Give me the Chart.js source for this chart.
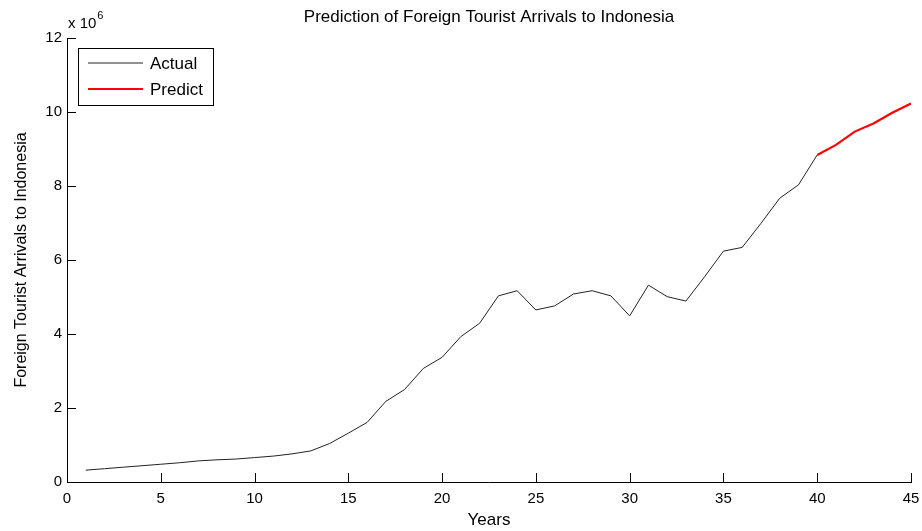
<!DOCTYPE html>
<html><head><meta charset="utf-8">
<script src="https://cdn.jsdelivr.net/npm/chart.js@4/dist/chart.umd.min.js"></script>
<style>html,body{margin:0;padding:0;background:#fff}#wrap{width:922px;height:531px}</style>
</head><body><div id="wrap"><canvas id="c" width="922" height="531"></canvas></div>
<script>
const chartTitle = 'Prediction of Foreign Tourist Arrivals to Indonesia';
const xTitle = 'Years';
const yTitle = 'Foreign Tourist Arrivals to Indonesia';
const seriesNames = ['Actual', 'Predict'];
const actualYears = [1,2,3,4,5,6,7,8,9,10,11,12,13,14,15,16,17,18,19,20,21,22,23,24,25,26,27,28,29,30,31,32,33,34,35,36,37,38,39,40];
const actualValues = [0.32,0.36,0.40,0.44,0.48,0.52,0.57,0.60,0.62,0.66,0.70,0.76,0.84,1.04,1.32,1.61,2.18,2.50,3.07,3.37,3.93,4.29,5.03,5.17,4.65,4.76,5.08,5.17,5.03,4.49,5.32,5.01,4.89,5.55,6.24,6.34,6.99,7.67,8.03,8.84];
const predictYears = [40,41,42,43,44,45];
const predictValues = [8.84,9.11,9.47,9.69,9.98,10.23];
const xTicks = [0,5,10,15,20,25,30,35,40,45];
const yTicks = [0,2,4,6,8,10,12];
const yMultiplierBase = 'x 10';
const yMultiplierExp = '6';

const FONT = "'Liberation Sans', Arial, sans-serif";

const toPoints = (xs, ys) => xs.map((x, i) => ({x: x, y: ys[i]}));

const decorPlugin = {
  id: 'decor',
  afterDraw(chart) {
    const ctx = chart.ctx;
    const xs = chart.scales.x, ys = chart.scales.y;
    const area = chart.chartArea;
    ctx.save();
    ctx.strokeStyle = '#000';
    ctx.lineWidth = 1;
    // inward tick marks
    xTicks.forEach(v => {
      const px = Math.round(xs.getPixelForValue(v)) + 0.5;
      ctx.beginPath(); ctx.moveTo(px, area.bottom); ctx.lineTo(px, area.bottom - 9); ctx.stroke();
    });
    yTicks.forEach(v => {
      const py = Math.round(ys.getPixelForValue(v)) + 0.5;
      ctx.beginPath(); ctx.moveTo(area.left, py); ctx.lineTo(area.left + 9, py); ctx.stroke();
    });
    // exponent label
    ctx.fillStyle = '#000';
    ctx.textBaseline = 'middle';
    ctx.textAlign = 'left';
    ctx.font = '15px ' + FONT;
    ctx.fillText(yMultiplierBase, area.left + 1, area.top - 14);
    const w = ctx.measureText(yMultiplierBase).width;
    ctx.font = '11px ' + FONT;
    ctx.fillText(yMultiplierExp, area.left + 2 + w, area.top - 22);
    // legend box
    const bx = area.left + 11, by = area.top + 10, bw = 135, bh = 57;
    ctx.fillStyle = '#fff';
    ctx.fillRect(bx, by, bw, bh);
    ctx.strokeStyle = '#000';
    ctx.lineWidth = 1;
    ctx.strokeRect(bx + 0.5, by + 0.5, bw, bh);
    chart.data.datasets.forEach((ds, i) => {
      const ly = by + 15 + i * 26;
      ctx.strokeStyle = ds.borderColor;
      ctx.lineWidth = ds.borderWidth;
      ctx.beginPath(); ctx.moveTo(bx + 10, ly); ctx.lineTo(bx + 65, ly); ctx.stroke();
      ctx.fillStyle = '#000';
      ctx.font = '17px ' + FONT;
      ctx.textBaseline = 'middle';
      ctx.fillText(ds.label, bx + 72, ly + 1);
    });
    ctx.restore();
  }
};

new Chart(document.getElementById('c'), {
  type: 'line',
  data: {
    datasets: [
      {label: seriesNames[0], data: toPoints(actualYears, actualValues), borderColor: '#222', borderWidth: 1, pointRadius: 0, tension: 0, fill: false},
      {label: seriesNames[1], data: toPoints(predictYears, predictValues), borderColor: '#ff0000', borderWidth: 2.2, pointRadius: 0, tension: 0, fill: false}
    ]
  },
  options: {
    responsive: false,
    animation: false,
    devicePixelRatio: 1,
    layout: {padding: {left: 0, right: 11, top: 0, bottom: 0}},
    plugins: {
      legend: {display: false},
      tooltip: {enabled: false},
      title: {
        display: true, text: chartTitle, fullSize: false, color: '#000',
        font: {family: FONT, size: 17, weight: 'normal', lineHeight: 1.2},
        padding: {top: 7, bottom: 10.6}
      }
    },
    scales: {
      x: {
        type: 'linear', min: 0, max: 45,
        afterBuildTicks: s => { s.ticks = xTicks.map(v => ({value: v})); },
        afterFit: s => { s.height = 49; s.paddingLeft = 0; s.paddingRight = 0; },
        grid: {display: true, drawOnChartArea: false, drawTicks: false},
        border: {display: true, color: '#000', width: 1},
        ticks: {color: '#000', padding: 8, maxRotation: 0, font: {family: FONT, size: 15}},
        title: {display: true, text: xTitle, color: '#000', font: {family: FONT, size: 17}, padding: {top: 0, bottom: 0}}
      },
      y: {
        type: 'linear', min: 0, max: 12,
        afterBuildTicks: s => { s.ticks = yTicks.map(v => ({value: v})); },
        afterFit: s => { s.width = 67; s.paddingTop = 0; s.paddingBottom = 0; },
        grid: {display: true, drawOnChartArea: false, drawTicks: false},
        border: {display: true, color: '#000', width: 1},
        ticks: {color: '#000', padding: 5, font: {family: FONT, size: 15}},
        title: {display: true, text: yTitle, color: '#000', font: {family: FONT, size: 16}, padding: {top: 12, bottom: 0}}
      }
    }
  },
  plugins: [decorPlugin]
});
</script>
</body></html>
